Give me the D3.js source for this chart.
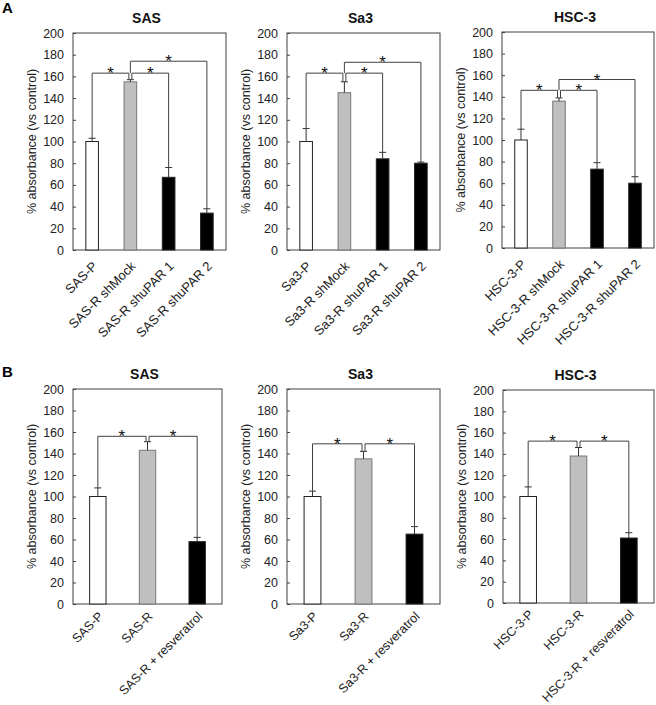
<!DOCTYPE html>
<html><head><meta charset="utf-8">
<script src="https://cdn.jsdelivr.net/npm/d3@7/dist/d3.min.js"></script>
<style>body{margin:0;background:#fff}svg{display:block;font-family:"Liberation Sans",Arial,sans-serif}</style>
</head><body><svg id="c" width="656" height="705"></svg>
<script>
// ---------- data ----------
const yTicks = [0,20,40,60,80,100,120,140,160,180,200];
const yTitle = "% absorbance (vs control)";

const catA_SAS = ["SAS-P","SAS-R shMock","SAS-R shuPAR 1","SAS-R shuPAR 2"];
const valA_SAS = [100,155,67,34];
const errA_SAS = [3,2,9,4];
const brkA_SAS = [[0,1,163],[1,2,163],[1,3,174]];

const catA_Sa3 = ["Sa3-P","Sa3-R shMock","Sa3-R shuPAR 1","Sa3-R shuPAR 2"];
const valA_Sa3 = [100,145,84,80];
const errA_Sa3 = [12,10,6,1];
const brkA_Sa3 = [[0,1,163],[1,2,163],[1,3,173]];

const catA_HSC = ["HSC-3-P","HSC-3-R shMock","HSC-3-R shuPAR 1","HSC-3-R shuPAR 2"];
const valA_HSC = [100,136,73,60];
const errA_HSC = [10,3,6,6];
const brkA_HSC = [[0,1,146],[1,2,146],[1,3,156]];

const catB_SAS = ["SAS-P","SAS-R","SAS-R + resveratrol"];
const valB_SAS = [100,143,58];
const errB_SAS = [8,8,4];
const brkB_SAS = [[0,1,156],[1,2,156]];

const catB_Sa3 = ["Sa3-P","Sa3-R","Sa3-R + resveratrol"];
const valB_Sa3 = [100,135,65];
const errB_Sa3 = [5,7,7];
const brkB_Sa3 = [[0,1,149],[1,2,149]];

const catB_HSC = ["HSC-3-P","HSC-3-R","HSC-3-R + resveratrol"];
const valB_HSC = [100,138,61];
const errB_HSC = [9,8,5];
const brkB_HSC = [[0,1,152],[1,2,152]];

const titles = ["SAS","Sa3","HSC-3"];
const fillsA = ["#ffffff","#bfbfbf","#000000","#000000"];
const fillsB = ["#ffffff","#bfbfbf","#000000"];

// ---------- drawing ----------
const svg = d3.select("#c");
const LINE = "#404040";
const FONT = "'Liberation Sans', Arial, sans-serif";

function panel(opt){
  const {x0,x1,y0,y1,cats,vals,errs,brk,title,fills,lblSize,lblDy} = opt;
  const g = svg.append("g").attr("font-family",FONT);
  const x = d3.scaleBand().domain(cats).range([x0,x1]).paddingInner(0.67).paddingOuter(0.335);
  const y = d3.scaleLinear().domain([0,200]).range([y1,y0]);

  g.append("rect").attr("x",x0).attr("y",y0).attr("width",x1-x0).attr("height",y1-y0)
    .attr("fill","none").attr("stroke",LINE).attr("stroke-width",1);

  const ax = g.append("g").attr("transform",`translate(${x0},0)`)
    .call(d3.axisLeft(y).tickValues(yTicks).tickSizeInner(-3).tickSizeOuter(0).tickPadding(9));
  ax.select(".domain").remove();
  ax.selectAll(".tick line").attr("stroke",LINE);
  ax.selectAll(".tick text").attr("font-size",12.5).attr("fill","#222").attr("font-family",FONT);

  g.append("text").attr("transform",`translate(${x0-37},${(y0+y1)/2}) rotate(-90)`)
    .attr("text-anchor","middle").attr("font-size",12.5).attr("fill","#222").text(yTitle);

  g.append("text").attr("x",(x0+x1)/2 - 3).attr("y",y0-10).attr("text-anchor","middle")
    .attr("font-size",14).attr("font-weight","bold").attr("fill","#111").text(title);

  g.selectAll("rect.bar").data(cats).join("rect").attr("class","bar")
    .attr("x",d=>x(d)).attr("width",x.bandwidth())
    .attr("y",(d,i)=>y(vals[i])).attr("height",(d,i)=>y(0)-y(vals[i]))
    .attr("fill",(d,i)=>fills[i]).attr("stroke",(d,i)=>i===1?"#777":"#222").attr("stroke-width",1);

  const cx = d=>x(d)+x.bandwidth()/2;
  cats.forEach((d,i)=>{
    g.append("line").attr("x1",cx(d)).attr("x2",cx(d)).attr("y1",y(vals[i])).attr("y2",y(vals[i]+errs[i]))
      .attr("stroke","#333");
    g.append("line").attr("x1",cx(d)-3.5).attr("x2",cx(d)+3.5).attr("y1",y(vals[i]+errs[i])).attr("y2",y(vals[i]+errs[i]))
      .attr("stroke","#333");
  });

  brk.forEach(([a,b,lvl])=>{
    const ly = y(lvl);
    let xa = cx(cats[a]), xb = cx(cats[b]);
    let ya = y(vals[a]+errs[a]), yb = y(vals[b]+errs[b]);
    if (b===a+1 && a===1) xa += 1.5;
    if (b===a+1 && b===1) xb -= 1.5;
    if (b-a>1){
      const lower = brk.find(q=>q[0]===a && q[1]===a+1);
      if (lower) ya = y(lower[2]);
    }
    g.append("path").attr("d",`M${xa},${ya}V${ly}H${xb}V${yb}`)
      .attr("fill","none").attr("stroke",LINE).attr("stroke-width",1);
    g.append("text").attr("x",(xa+xb)/2).attr("y",ly+6).attr("text-anchor","middle")
      .attr("font-size",17).attr("fill","#111").text("*");
  });

  cats.forEach(d=>{
    g.append("text").attr("transform",`translate(${cx(d)+6},${y1+lblDy}) rotate(-45)`)
      .attr("text-anchor","end").attr("font-size",lblSize).attr("fill","#222").text(d);
  });
}

svg.append("text").attr("x",2).attr("y",13).attr("font-size",15).attr("font-weight","bold").attr("font-family",FONT).text("A");
svg.append("text").attr("x",2).attr("y",377).attr("font-size",15).attr("font-weight","bold").attr("font-family",FONT).text("B");

panel({x0:73,x1:226,y0:33,y1:250,cats:catA_SAS,vals:valA_SAS,errs:errA_SAS,brk:brkA_SAS,title:titles[0],fills:fillsA,lblSize:13,lblDy:17});
panel({x0:287,x1:440,y0:33,y1:250,cats:catA_Sa3,vals:valA_Sa3,errs:errA_Sa3,brk:brkA_Sa3,title:titles[1],fills:fillsA,lblSize:13,lblDy:17});
panel({x0:502,x1:654,y0:32,y1:248,cats:catA_HSC,vals:valA_HSC,errs:errA_HSC,brk:brkA_HSC,title:titles[2],fills:fillsA,lblSize:13,lblDy:17});

panel({x0:73,x1:222,y0:389,y1:604,cats:catB_SAS,vals:valB_SAS,errs:errB_SAS,brk:brkB_SAS,title:titles[0],fills:fillsB,lblSize:12.5,lblDy:13});
panel({x0:287,x1:440,y0:389,y1:604,cats:catB_Sa3,vals:valB_Sa3,errs:errB_Sa3,brk:brkB_Sa3,title:titles[1],fills:fillsB,lblSize:12.5,lblDy:13});
panel({x0:503,x1:654,y0:390,y1:603,cats:catB_HSC,vals:valB_HSC,errs:errB_HSC,brk:brkB_HSC,title:titles[2],fills:fillsB,lblSize:12.5,lblDy:12});
</script></body></html>
